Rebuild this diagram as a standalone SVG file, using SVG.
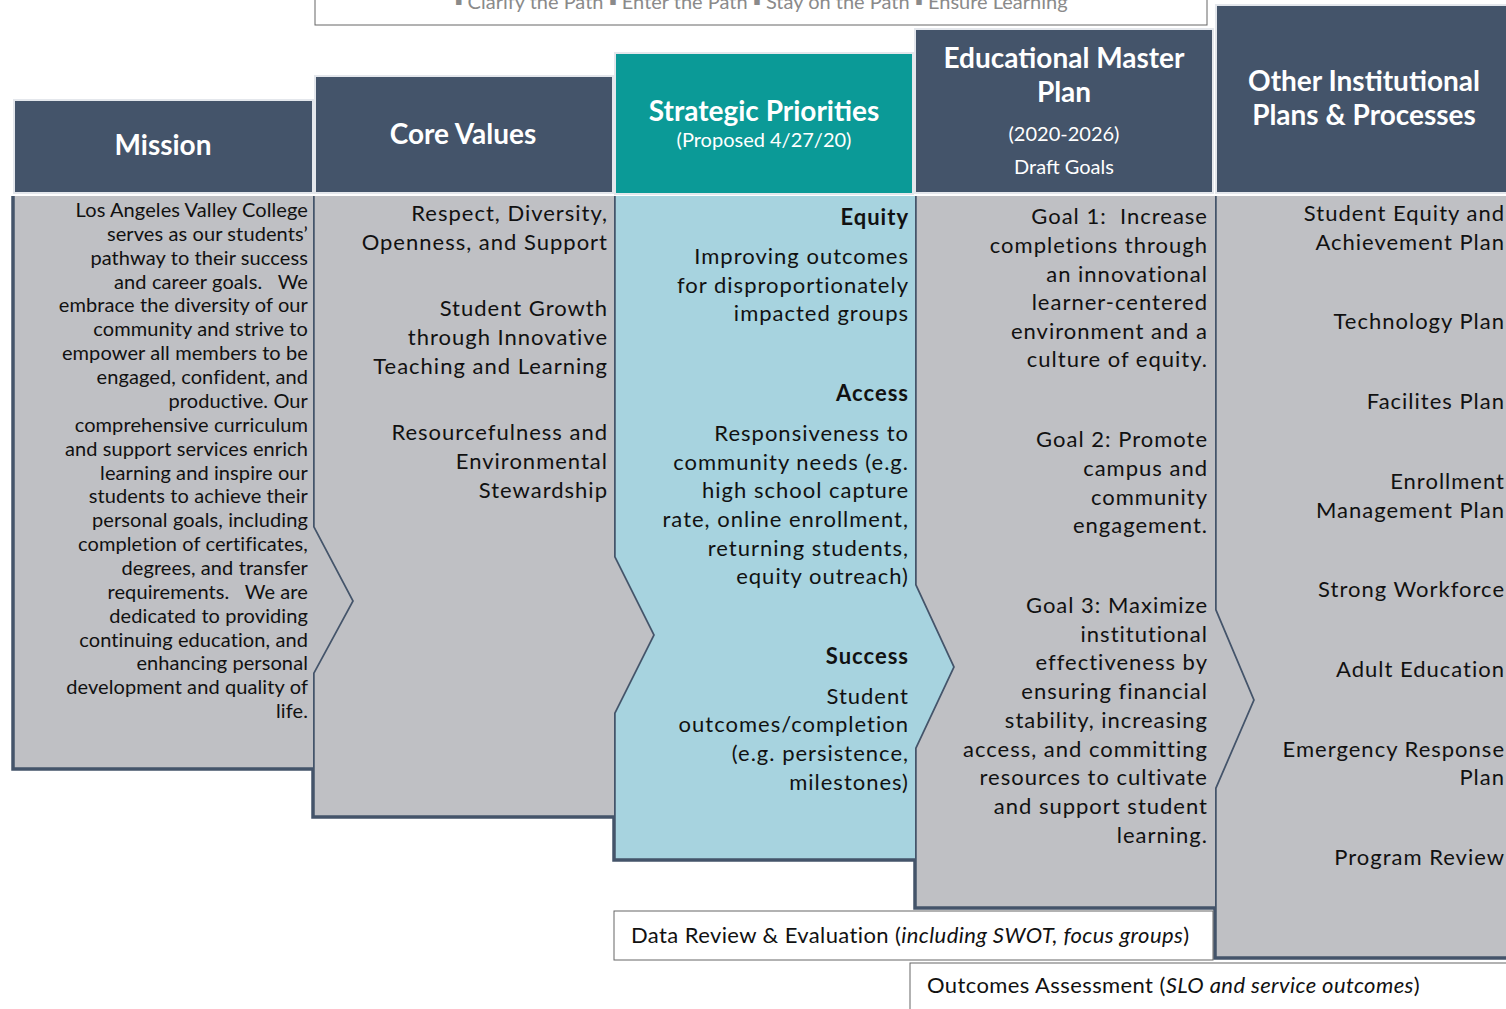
<svg xmlns="http://www.w3.org/2000/svg" width="1506" height="1009" viewBox="0 0 1506 1009">
<style>
.hdr{fill:#44546a;stroke:#e4e7ec;stroke-width:2}
.body{fill:#bfc0c4}
.blue{fill:#a7d3df}
.edge{fill:none;stroke:#44546a;stroke-width:3.5;stroke-linejoin:miter}
.ht{font-family:Lato,"Open Sans",sans-serif;font-weight:bold;font-size:28px;fill:#ffffff;text-anchor:middle}
.hs{font-family:Lato,"Open Sans",sans-serif;font-size:20px;fill:#ffffff;text-anchor:middle}
.bt{font-family:Lato,"Open Sans",sans-serif;font-size:20px;letter-spacing:0.1px;fill:#111;text-anchor:end}
.bt2{font-family:Lato,"Open Sans",sans-serif;font-size:22px;letter-spacing:1px;fill:#111;text-anchor:end}
.bb{font-weight:bold}
.box{fill:#ffffff;stroke:#666;stroke-width:1}
.lt{font-family:Lato,"Open Sans",sans-serif;font-size:22px;letter-spacing:0.4px;fill:#111}
</style>
<rect width="1506" height="1009" fill="#ffffff"/>
<g id="banner">
<rect class="box" x="315" y="-5" width="892" height="30"/>
<text x="761" y="9" font-family="Lato,'Open Sans',sans-serif" font-size="20" fill="#8a8a8a" text-anchor="middle">▪ Clarify the Path ▪ Enter the Path ▪ Stay on the Path ▪ Ensure Learning</text>
</g>
<g id="other">
<rect class="hdr" x="1216" y="5" width="300" height="188"/>
<polygon class="body" points="1215,196 1506,196 1506,958 1215,958 1215,788 1253,700 1215,610"/>
<polyline class="edge" points="1215,196 1215,610 1253,700 1215,788 1215,958 1510,958"/>
<text class="ht" x="1364" y="91">Other Institutional</text>
<text class="ht" x="1364" y="125">Plans &amp; Processes</text>
<g class="bt2">
<text x="1505" y="221">Student Equity and</text>
<text x="1505" y="250">Achievement Plan</text>
<text x="1505" y="329">Technology Plan</text>
<text x="1505" y="409">Facilites Plan</text>
<text x="1505" y="489">Enrollment</text>
<text x="1505" y="518">Management Plan</text>
<text x="1505" y="597">Strong Workforce</text>
<text x="1505" y="677">Adult Education</text>
<text x="1505" y="757">Emergency Response</text>
<text x="1505" y="785">Plan</text>
<text x="1505" y="865">Program Review</text>
</g>
</g>
<g id="emp">
<rect class="hdr" x="915" y="29" width="298" height="164"/>
<polygon class="body" points="915,196 1215,196 1215,610 1253,700 1215,788 1215,908 915,908 915,748 953,667 915,585"/>
<polyline class="edge" points="915,196 915,585 953,667 915,748 915,908 1215,908"/>
<text class="ht" x="1064" y="68">Educational Master</text>
<text class="ht" x="1064" y="102">Plan</text>
<text class="hs" x="1064" y="141">(2020-2026)</text>
<text class="hs" x="1064" y="174">Draft Goals</text>
<g class="bt2">
<text x="1208" y="224" xml:space="preserve">Goal 1:  Increase</text>
<text x="1208" y="253">completions through</text>
<text x="1208" y="282">an innovational</text>
<text x="1208" y="310">learner-centered</text>
<text x="1208" y="339">environment and a</text>
<text x="1208" y="367">culture of equity.</text>
<text x="1208" y="447">Goal 2: Promote</text>
<text x="1208" y="476">campus and</text>
<text x="1208" y="505">community</text>
<text x="1208" y="533">engagement.</text>
<text x="1208" y="613">Goal 3: Maximize</text>
<text x="1208" y="642">institutional</text>
<text x="1208" y="670">effectiveness by</text>
<text x="1208" y="699">ensuring financial</text>
<text x="1208" y="728">stability, increasing</text>
<text x="1208" y="757">access, and committing</text>
<text x="1208" y="785">resources to cultivate</text>
<text x="1208" y="814">and support student</text>
<text x="1208" y="843">learning.</text>
</g>
</g>
<g id="strategic">
<rect x="615" y="53" width="298" height="141" fill="#0b9a97" stroke="#e4e7ec" stroke-width="2"/>
<polygon class="blue" points="614,196 915,196 915,585 953,667 915,748 915,860 614,860 614,713 653,635 614,557"/>
<polyline class="edge" points="614,196 614,557 653,635 614,713 614,860 915,860"/>
<text class="ht" x="764" y="121">Strategic Priorities</text>
<text class="hs" x="764" y="147">(Proposed 4/27/20)</text>
<g class="bt2">
<text x="909" y="225" class="bb">Equity</text>
<text x="909" y="264">Improving outcomes</text>
<text x="909" y="293">for disproportionately</text>
<text x="909" y="321">impacted groups</text>
<text x="909" y="401" class="bb">Access</text>
<text x="909" y="441">Responsiveness to</text>
<text x="909" y="470">community needs (e.g.</text>
<text x="909" y="498">high school capture</text>
<text x="909" y="527">rate, online enrollment,</text>
<text x="909" y="556">returning students,</text>
<text x="909" y="584">equity outreach)</text>
<text x="909" y="664" class="bb">Success</text>
<text x="909" y="704">Student</text>
<text x="909" y="732">outcomes/completion</text>
<text x="909" y="761">(e.g. persistence,</text>
<text x="909" y="790">milestones)</text>
</g>
</g>
<g id="core-values">
<rect class="hdr" x="315" y="76" width="298" height="117"/>
<polygon class="body" points="313,196 614,196 614,557 653,635 614,713 614,817 313,817 313,673 352,601 313,527"/>
<polyline class="edge" points="313,196 313,527 352,601 313,673 313,817 614,817"/>
<text class="ht" x="463" y="144">Core Values</text>
<g class="bt2">
<text x="608" y="221">Respect, Diversity,</text>
<text x="608" y="250">Openness, and Support</text>
<text x="608" y="316">Student Growth</text>
<text x="608" y="345">through Innovative</text>
<text x="608" y="374">Teaching and Learning</text>
<text x="608" y="440">Resourcefulness and</text>
<text x="608" y="469">Environmental</text>
<text x="608" y="498">Stewardship</text>
</g>
</g>
<g id="mission">
<rect class="hdr" x="14" y="100" width="299" height="93"/>
<polygon class="body" points="13,196 313,196 313,527 352,601 313,673 313,769 13,769"/>
<polyline class="edge" points="13,196 13,769 313,769"/>
<text class="ht" x="163" y="155">Mission</text>
<g class="bt">
<text x="308" y="217">Los Angeles Valley College</text>
<text x="308" y="241">serves as our students’</text>
<text x="308" y="265">pathway to their success</text>
<text x="308" y="289" xml:space="preserve">and career goals.   We</text>
<text x="308" y="312">embrace the diversity of our</text>
<text x="308" y="336">community and strive to</text>
<text x="308" y="360">empower all members to be</text>
<text x="308" y="384">engaged, confident, and</text>
<text x="308" y="408">productive. Our</text>
<text x="308" y="432">comprehensive curriculum</text>
<text x="308" y="456">and support services enrich</text>
<text x="308" y="480">learning and inspire our</text>
<text x="308" y="503">students to achieve their</text>
<text x="308" y="527">personal goals, including</text>
<text x="308" y="551">completion of certificates,</text>
<text x="308" y="575">degrees, and transfer</text>
<text x="308" y="599" xml:space="preserve">requirements.   We are</text>
<text x="308" y="623">dedicated to providing</text>
<text x="308" y="647">continuing education, and</text>
<text x="308" y="670">enhancing personal</text>
<text x="308" y="694">development and quality of</text>
<text x="308" y="718">life.</text>
</g>
</g>
<g id="data-review">
<rect class="box" x="614" y="911" width="599" height="49"/>
<text class="lt" x="631" y="943">Data Review &amp; Evaluation (<tspan font-style="italic">including SWOT, focus groups</tspan>)</text>
</g>
<g id="outcomes">
<rect class="box" x="910" y="963" width="610" height="60"/>
<text class="lt" x="927" y="993">Outcomes Assessment (<tspan font-style="italic">SLO and service outcomes</tspan>)</text>
</g>
<g id="connectors"/>
</svg>
